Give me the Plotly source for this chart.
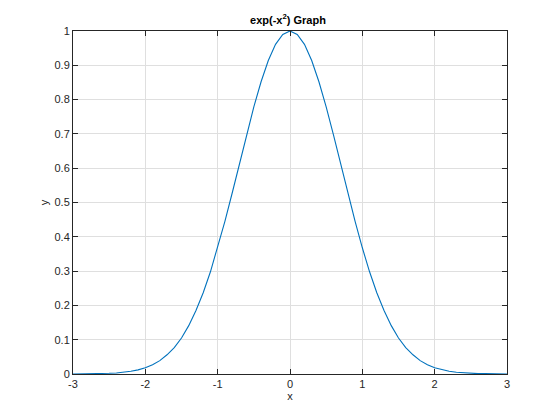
import plotly.graph_objects as go

x_vals = [-3.0, -2.9, -2.8, -2.7, -2.6, -2.5, -2.4, -2.3, -2.2, -2.1,
          -2.0, -1.9, -1.8, -1.7, -1.6, -1.5, -1.4, -1.3, -1.2, -1.1,
          -1.0, -0.9, -0.8, -0.7, -0.6, -0.5, -0.4, -0.3, -0.2, -0.1,
          0.0, 0.1, 0.2, 0.3, 0.4, 0.5, 0.6, 0.7, 0.8, 0.9,
          1.0, 1.1, 1.2, 1.3, 1.4, 1.5, 1.6, 1.7, 1.8, 1.9,
          2.0, 2.1, 2.2, 2.3, 2.4, 2.5, 2.6, 2.7, 2.8, 2.9, 3.0]
y_vals = [0.000, 0.000, 0.000, 0.001, 0.001, 0.002, 0.003, 0.005, 0.008, 0.012,
          0.018, 0.027, 0.039, 0.056, 0.077, 0.105, 0.141, 0.185, 0.237, 0.298,
          0.368, 0.445, 0.527, 0.613, 0.698, 0.779, 0.852, 0.914, 0.961, 0.990,
          1.000, 0.990, 0.961, 0.914, 0.852, 0.779, 0.698, 0.613, 0.527, 0.445,
          0.368, 0.298, 0.237, 0.185, 0.141, 0.105, 0.077, 0.056, 0.039, 0.027,
          0.018, 0.012, 0.008, 0.005, 0.003, 0.002, 0.001, 0.001, 0.000, 0.000, 0.000]

x_ticks = [-3, -2, -1, 0, 1, 2, 3]
y_ticks = [0, 0.1, 0.2, 0.3, 0.4, 0.5, 0.6, 0.7, 0.8, 0.9, 1]
y_tick_labels = ["0", "0.1", "0.2", "0.3", "0.4", "0.5", "0.6", "0.7", "0.8", "0.9", "1"]

FONT = "Liberation Sans, Arial, sans-serif"

fig = go.Figure()
fig.add_trace(go.Scatter(x=x_vals, y=y_vals, mode="lines",
                         line=dict(color="#0072BD", width=1.1), showlegend=False))

axis_common = dict(
    showline=True, linecolor="#262626", linewidth=1, mirror="ticks",
    ticks="inside", ticklen=5, tickcolor="#262626", tickwidth=1,
    showgrid=True, gridcolor="#dfdfdf", gridwidth=1, zeroline=False,
    tickfont=dict(family=FONT, size=11, color="#262626"),
)

fig.update_layout(
    width=560, height=420,
    margin=dict(l=65, r=61, t=23, b=54),
    paper_bgcolor="white", plot_bgcolor="white",
    title=dict(text="<b>exp(-x<sup>2</sup>) Graph</b>", x=0.5, xanchor="center",
               y=0.971, yanchor="middle",
               font=dict(family=FONT, size=11, color="black")),
    xaxis=dict(range=[-3, 3], tickvals=x_ticks, ticktext=[str(t) for t in x_ticks],
               title=dict(text="x", standoff=2,
                          font=dict(family=FONT, size=11, color="#262626")),
               **axis_common),
    yaxis=dict(range=[0, 1], tickvals=y_ticks, ticktext=y_tick_labels,
               title=dict(text="y", standoff=3,
                          font=dict(family=FONT, size=11, color="#262626")),
               **axis_common),
)

fig.write_html("out.html")
